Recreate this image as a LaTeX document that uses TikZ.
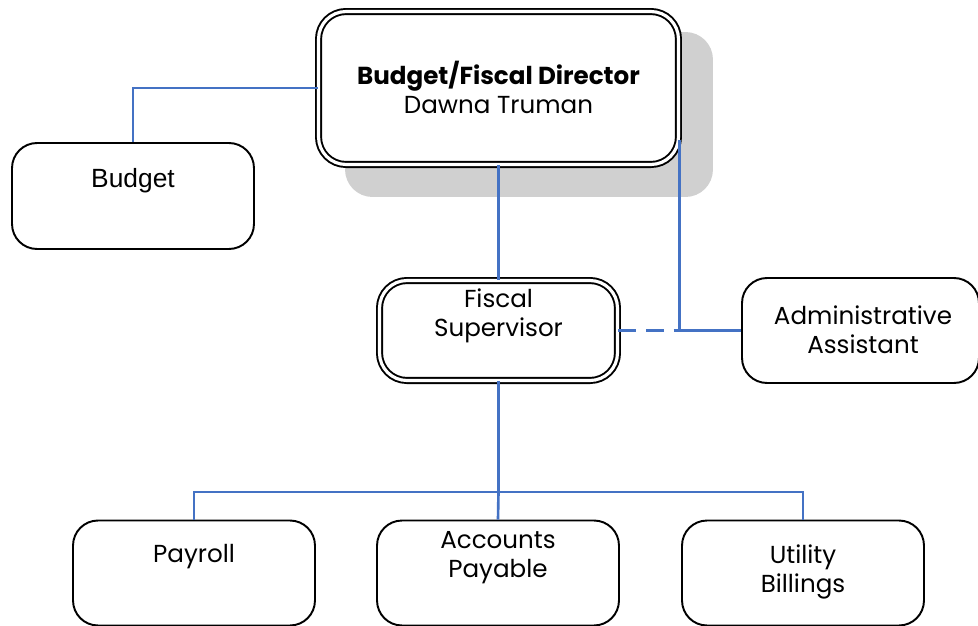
\documentclass[tikz,border=0pt]{standalone}
\usepackage{fontspec}
\setmainfont{Poppins}
\newfontfamily\arialfont{Liberation Sans}
\definecolor{linkblue}{RGB}{68,114,196}
\definecolor{shadowgray}{RGB}{208,208,208}

\begin{document}
\begin{tikzpicture}[x=0.02cm,y=-0.02cm,
  box/.style={draw=black,line width=1.1pt,fill=white,rounded corners=0.5cm,
    minimum width=4.84cm,minimum height=2.04cm},
  dbox/.style={draw=black,line width=1.1pt,double=white,double distance=1.8pt,
    fill=white,rounded corners=0.55cm},
  link/.style={draw=linkblue,line width=1.5pt},
  dashlink/.style={link,dash pattern=on 10pt off 5.7pt},
  txt/.style={align=center,font=\fontsize{14}{16.5}\selectfont}]
  \useasboundingbox (0,0) rectangle (978,626);

  % director with its shadow
  \node[fill=shadowgray,rounded corners=0.55cm,minimum width=7.36cm,
    minimum height=3.3cm] (dirshadow) at (529,114.5) {};
  \node[dbox,minimum width=7.2cm,minimum height=3.06cm] (dir) at (498.5,88) {};
  \node[txt] (dirtext) at (498.5,87) {\textbf{Budget/Fiscal Director}\\Dawna Truman};

  % second row
  \node[box,minimum height=2.12cm] (bud) at (133,196) {};
  \node[txt,font=\arialfont\fontsize{15}{16}\selectfont] (budtext) at (133,181) {Budget};

  \node[dbox,minimum width=4.76cm,minimum height=2.0cm] (sup) at (498.5,330.5) {};
  \node[txt] (suptext) at (498.5,316) {Fiscal\\Supervisor};

  \node[box,minimum width=4.74cm,minimum height=2.1cm] (adm) at (860.5,330.5) {};
  \node[txt] (admtext) at (863,330) {Administrative\\Assistant};

  % bottom row
  \node[box,minimum height=2.1cm] (pay) at (194,573) {};
  \node[txt] (paytext) at (194,557) {Payroll};
  \node[box,minimum height=2.1cm] (acc) at (498,573) {};
  \node[txt] (acctext) at (498,558) {Accounts\\Payable};
  \node[box,minimum height=2.1cm] (util) at (803,573) {};
  \node[txt] (utiltext) at (803,572) {Utility\\Billings};

  % connectors
  \coordinate (tap) at (dir.east |- adm.west);
  \coordinate (bus) at (498.5,492);
  \draw[link] (dir.west) -| (bud.north);
  \draw[link] (dir.south) -- (sup.north);
  \draw[link] ([yshift=-1.04cm]dir.east) -- (tap) -- (adm.west);
  \draw[dashlink] (sup.east) -- (tap);
  \draw[link] (sup.south) -- (bus);
  \draw[link] (pay.north) |- (bus) -| (util.north);
  \draw[link] (bus) -- (acc.north);
\end{tikzpicture}
\end{document}
